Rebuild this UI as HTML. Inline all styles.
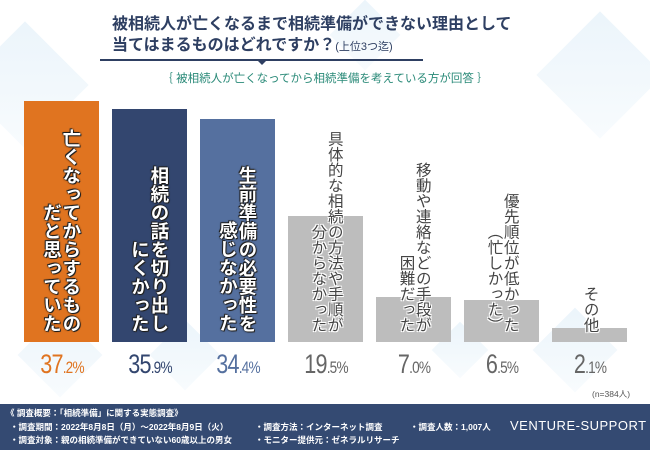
<!DOCTYPE html>
<html><head><meta charset="utf-8">
<style>
*{margin:0;padding:0;box-sizing:border-box}
body{width:650px;height:450px;overflow:hidden;background:#fff;font-family:"Liberation Sans","Noto Sans CJK JP",sans-serif;position:relative}
.dia{position:absolute;transform:rotate(45deg);background:linear-gradient(135deg,#e3f0f9,#f5fafd);opacity:.7}
.title{position:absolute;left:112px;top:14px;font-size:16px;font-weight:bold;color:#2e3f62;line-height:21px}
.title small{font-size:11px;font-weight:normal}
.sub{position:absolute;left:0;width:650px;top:70px;text-align:center;font-size:11.5px;color:#2a8a78}
.bar{position:absolute}
.lbl{position:absolute;writing-mode:vertical-rl;text-align:end;font-weight:bold;line-height:1.05}
.lbl.c{color:#fff;font-size:18.5px;text-shadow:0 0 2px #000,0 0 1px #000,1px 1px 0 #333,-1px -1px 0 #333}
.lbl.g{color:#444;font-size:15.5px;font-weight:normal;text-shadow:0 0 2px #fff,1px 1px 0 #fff,-1px -1px 0 #fff,1px -1px 0 #fff,-1px 1px 0 #fff}
.pct{position:absolute;top:349px;width:88px;text-align:center;font-size:27px;letter-spacing:-1px;transform:scaleX(.8)}
.pct span{font-size:17px}
.footer{position:absolute;left:0;top:404px;width:650px;height:46px;background:#344a72;color:#fff;font-size:8.5px;font-weight:bold}
.footer div{position:absolute;white-space:nowrap}
</style></head><body>
<div class="dia" style="left:-20px;top:40px;width:90px;height:90px"></div>
<div class="dia" style="left:340px;top:10px;width:50px;height:50px"></div>
<div class="dia" style="left:555px;top:30px;width:90px;height:90px"></div>
<div class="dia" style="left:30px;top:325px;width:60px;height:60px"></div>
<div class="dia" style="left:160px;top:330px;width:50px;height:50px"></div>
<div class="dia" style="left:440px;top:330px;width:40px;height:40px"></div>
<div class="dia" style="left:545px;top:320px;width:60px;height:60px"></div>

<div class="title">被相続人が亡くなるまで相続準備ができない理由として<br>当てはまるものはどれですか？<small>(上位3つ迄)</small></div>
<div style="position:absolute;left:100px;top:59px;width:323px;height:1.5px;background:#2e3f62"></div>
<div style="position:absolute;left:257px;top:60px;border-left:5px solid transparent;border-right:5px solid transparent;border-top:5px solid #2e3f62"></div>
<div class="sub">｛ 被相続人が亡くなってから相続準備を考えている方が回答 ｝</div>

<div id="chart"></div>

<div class="footer">
<div style="left:6px;top:3px">《 調査概要：「相続準備」に関する実態調査》</div>
<div style="left:10px;top:17px">・調査期間：2022年8月8日（月）～2022年8月9日（火）</div>
<div style="left:10px;top:30px">・調査対象：親の相続準備ができていない60歳以上の男女</div>
<div style="left:255px;top:17px">・調査方法：インターネット調査</div>
<div style="left:255px;top:30px">・モニター提供元：ゼネラルリサーチ</div>
<div style="left:410px;top:17px">・調査人数：1,007人</div>
<div style="left:510px;top:14px;font-size:13px;font-weight:normal;letter-spacing:.5px">VENTURE-SUPPORT</div>
</div>
<div style="position:absolute;left:592px;top:388px;font-size:8.5px;color:#555">(n=384人)</div>

<script>
const categories=[["亡くなってからするもの","だと思っていた"],["相続の話を切り出し","にくかった"],["生前準備の必要性を","感じなかった"],["具体的な相続の方法や手順が","分からなかった"],["移動や連絡などの手段が","困難だった"],["優先順位が低かった","（忙しかった）"],["その他"]];
const values=[37.2,35.9,34.4,19.5,7.0,6.5,2.1];
const colors=["#e07420","#33466f","#55709f","#bdbdbd","#bdbdbd","#bdbdbd","#bdbdbd"];
const pctColors=["#e07420","#33466f","#55709f","#666","#666","#666","#666"];
const base=342,pxPer=6.48,x0=24,step=88,bw=75;
const y=v=>base-v*pxPer;
const chart=document.getElementById('chart');
values.forEach((v,i)=>{
  const x=x0+i*step;
  const b=document.createElement('div');
  b.className='bar';
  
  
  b.style.cssText=`left:${x}px;top:${y(v)}px;width:${bw}px;height:${base-y(v)}px;background:${colors[i]}`;
  chart.appendChild(b);
  const l=document.createElement('div');
  l.className='lbl '+(i<3?'c':'g');
  
  
  l.innerHTML=categories[i].join('<br>');
  l.style.left=(x+bw/2)+'px';
  l.style.bottom=(450-base+10)+'px';
  l.style.transform='translateX(-50%)';
  l.style.height='240px';
  chart.appendChild(l);
  const p=document.createElement('div');
  p.className='pct';
  
  
  const s=v.toFixed(1).split('.');
  p.innerHTML=s[0]+'<span>.'+s[1]+'%</span>';
  p.style.left=(x+bw/2-44)+'px';
  p.style.color=pctColors[i];
  chart.appendChild(p);
});
</script>
</body></html>
